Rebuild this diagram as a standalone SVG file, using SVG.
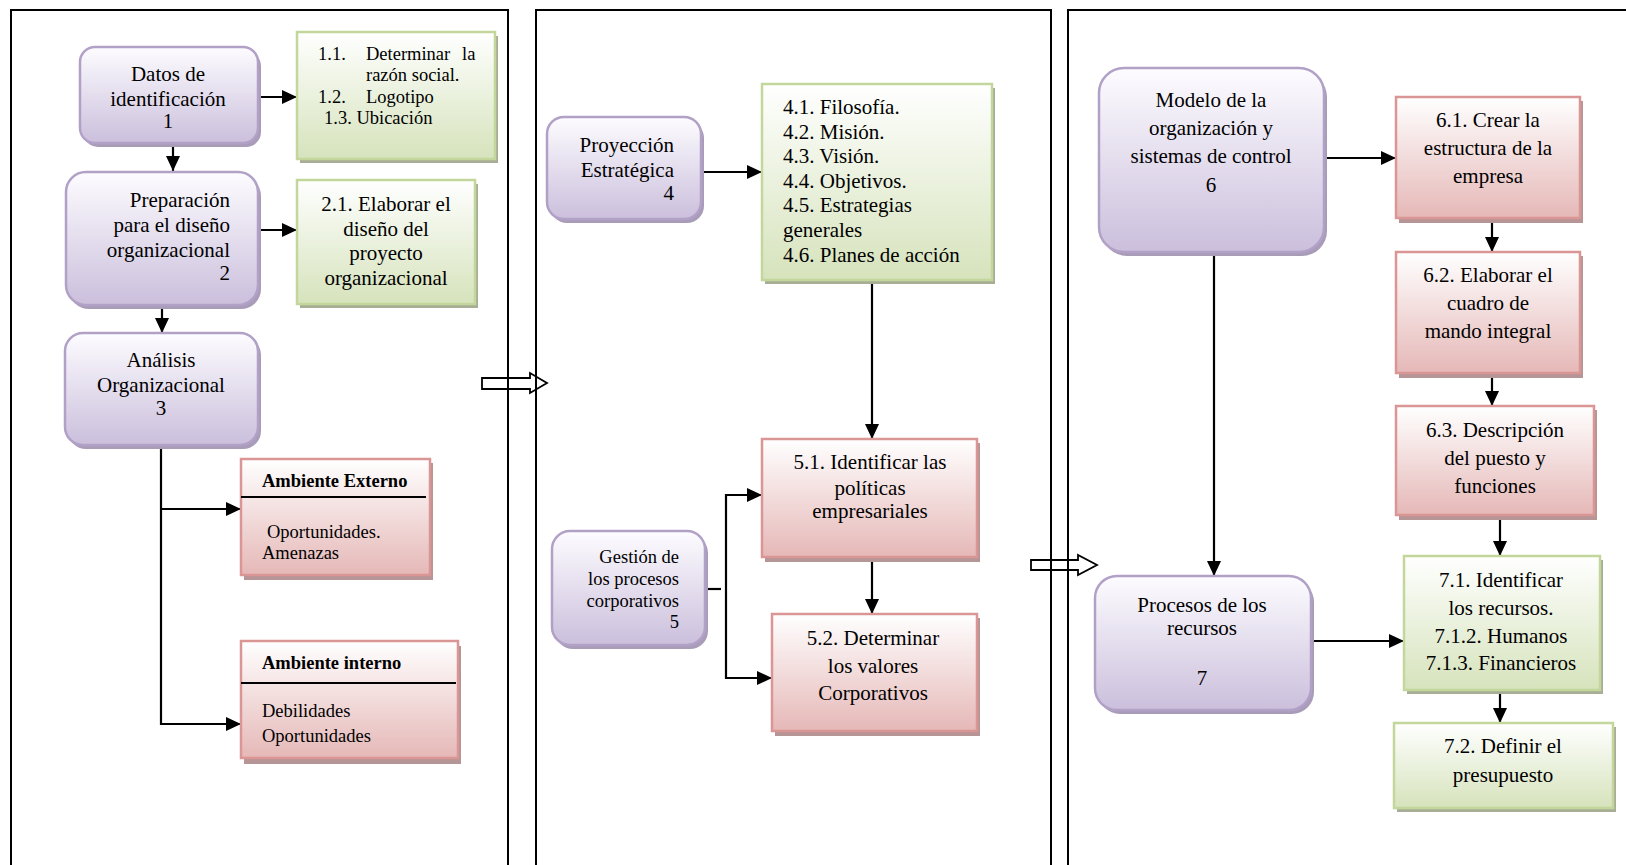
<svg xmlns="http://www.w3.org/2000/svg" width="1626" height="865" viewBox="0 0 1626 865">
<defs>
<linearGradient id="gP" x1="0" y1="0" x2="0" y2="1"><stop offset="0" stop-color="#fdfcff"/><stop offset="1" stop-color="#cbbfdc"/></linearGradient>
<linearGradient id="gG" x1="0" y1="0" x2="0" y2="1"><stop offset="0" stop-color="#ffffff"/><stop offset="1" stop-color="#d6e3bc"/></linearGradient>
<linearGradient id="gR" x1="0" y1="0" x2="0" y2="1"><stop offset="0" stop-color="#ffffff"/><stop offset="1" stop-color="#e5b8b7"/></linearGradient>
<marker id="ah" markerUnits="userSpaceOnUse" markerWidth="15" markerHeight="14" refX="15" refY="7" orient="auto"><path d="M0,0 L15,7 L0,14 z" fill="#000"/></marker>
<style>
text{font-family:"Liberation Serif","Times New Roman",serif;fill:#000;font-size:21px}
.s{font-size:18.5px}
.b{font-weight:bold}
.c{text-anchor:middle}
.r{text-anchor:end}
.pn{fill:url(#gP);stroke:#b2a1c7;stroke-width:2.5}
.ps{fill:#a99cb9}
.gn{fill:url(#gG);stroke:#c3d69b;stroke-width:2.5}
.gs{fill:#a7ae95}
.rn{fill:url(#gR);stroke:#d99694;stroke-width:2.5}
.rs{fill:#b59595}
.ln{fill:none;stroke:#000;stroke-width:2.2}
.ar{marker-end:url(#ah)}
.pan{fill:none;stroke:#000;stroke-width:2}
.ho{fill:#fff;stroke:#000;stroke-width:1.8}
</style>
</defs>
<rect width="1626" height="865" fill="#fff"/>

<g id="transfer-arrows">
<path class="ho" d="M482,378 H530 V373 L547,383 L530,393 V389 H482 Z"/>
<path class="ho" d="M1031,560 H1078 V555 L1097,565 L1078,575 V570 H1031 Z"/>
</g>

<g id="panels">
<path class="pan" d="M11,870 V10 H508 V870"/>
<path class="pan" d="M536,870 V10 H1051 V870"/>
<path class="pan" d="M1068,870 V10 H1630"/>
</g>

<g id="connectors">
<path class="ln ar" d="M258,97 H297"/>
<path class="ln ar" d="M173,146 V171"/>
<path class="ln ar" d="M258,230 H297"/>
<path class="ln ar" d="M162,308 V333"/>
<path class="ln ar" d="M161,448 V724 H241"/>
<path class="ln ar" d="M161,509 H241"/>
<path class="ln ar" d="M701,172 H762"/>
<path class="ln ar" d="M872,284 V439"/>
<path class="ln ar" d="M872,561 V614"/>
<path class="ln" d="M705,589 H721"/>
<path class="ln ar" d="M762,495 H726 V678 H772" style="marker-end:none"/>
<path class="ln ar" d="M726,495 H762"/>
<path class="ln ar" d="M726,678 H772"/>
<path class="ln ar" d="M1327,158 H1396"/>
<path class="ln ar" d="M1492,222 V252"/>
<path class="ln ar" d="M1492,377 V406"/>
<path class="ln ar" d="M1500,519 V556"/>
<path class="ln ar" d="M1214,256 V576"/>
<path class="ln ar" d="M1311,641 H1404"/>
<path class="ln ar" d="M1500,694 V723"/>
</g>

<g id="n1">
<rect class="ps" x="83" y="51" width="178" height="96" rx="15"/>
<rect class="pn" x="80" y="47" width="178" height="96" rx="15"/>
<text class="c" x="168" y="81">Datos de</text>
<text class="c" x="168" y="106">identificación</text>
<text class="c" x="168" y="128">1</text>
</g>

<g id="n1-1">
<rect class="gs" x="300" y="36" width="198" height="127"/>
<rect class="gn" x="297" y="32" width="198" height="127"/>
<text class="s" x="318" y="60">1.1.</text>
<text class="s" x="366" y="60">Determinar</text>
<text class="s" x="462" y="60">la</text>
<text class="s" x="366" y="81">razón social.</text>
<text class="s" x="318" y="103">1.2.</text>
<text class="s" x="366" y="103">Logotipo</text>
<text class="s" x="324" y="124">1.3. Ubicación</text>
</g>

<g id="n2">
<rect class="ps" x="69" y="176" width="192" height="133" rx="20"/>
<rect class="pn" x="66" y="172" width="192" height="133" rx="20"/>
<text class="r" x="230" y="207">Preparación</text>
<text class="r" x="230" y="232">para el diseño</text>
<text class="r" x="230" y="257">organizacional</text>
<text class="r" x="230" y="280">2</text>
</g>

<g id="n2-1">
<rect class="gs" x="300" y="184" width="178" height="124"/>
<rect class="gn" x="297" y="180" width="178" height="124"/>
<text class="c" x="386" y="211">2.1. Elaborar el</text>
<text class="c" x="386" y="236">diseño del</text>
<text class="c" x="386" y="260">proyecto</text>
<text class="c" x="386" y="285">organizacional</text>
</g>

<g id="n3">
<rect class="ps" x="68" y="337" width="193" height="112" rx="18"/>
<rect class="pn" x="65" y="333" width="193" height="112" rx="18"/>
<text class="c" x="161" y="367">Análisis</text>
<text class="c" x="161" y="392">Organizacional</text>
<text class="c" x="161" y="415">3</text>
</g>

<g id="n3-ext">
<rect class="rs" x="244" y="463" width="189" height="117"/>
<rect class="rn" x="241" y="459" width="189" height="116"/>
<line x1="241" y1="497" x2="426" y2="497" stroke="#000" stroke-width="2"/>
<text class="s b" x="262" y="487">Ambiente Externo</text>
<text class="s" x="267" y="538">Oportunidades.</text>
<text class="s" x="262" y="559">Amenazas</text>
</g>

<g id="n3-int">
<rect class="rs" x="244" y="646" width="217" height="118"/>
<rect class="rn" x="241" y="641" width="217" height="117"/>
<line x1="241" y1="683" x2="456" y2="683" stroke="#000" stroke-width="2"/>
<text class="s b" x="262" y="669">Ambiente interno</text>
<text class="s" x="262" y="717">Debilidades</text>
<text class="s" x="262" y="742">Oportunidades</text>
</g>

<g id="n4">
<rect class="ps" x="550" y="121" width="154" height="102" rx="17"/>
<rect class="pn" x="547" y="117" width="154" height="102" rx="17"/>
<text class="r" x="674" y="152">Proyección</text>
<text class="r" x="674" y="177">Estratégica</text>
<text class="r" x="674" y="200">4</text>
</g>

<g id="n4-x">
<rect class="gs" x="765" y="88" width="230" height="196"/>
<rect class="gn" x="762" y="84" width="230" height="196"/>
<text x="783" y="114">4.1. Filosofía.</text>
<text x="783" y="139">4.2. Misión.</text>
<text x="783" y="163">4.3. Visión.</text>
<text x="783" y="188">4.4. Objetivos.</text>
<text x="783" y="212">4.5. Estrategias</text>
<text x="783" y="237">generales</text>
<text x="783" y="262">4.6. Planes de acción</text>
</g>

<g id="n5">
<rect class="ps" x="555" y="535" width="153" height="114" rx="18"/>
<rect class="pn" x="552" y="531" width="153" height="114" rx="18"/>
<text class="s r" x="679" y="563">Gestión de</text>
<text class="s r" x="679" y="585">los procesos</text>
<text class="s r" x="679" y="607">corporativos</text>
<text class="s r" x="679" y="628">5</text>
</g>

<g id="n5-1">
<rect class="rs" x="765" y="443" width="215" height="119"/>
<rect class="rn" x="762" y="439" width="215" height="118"/>
<text class="c" x="870" y="469">5.1. Identificar las</text>
<text class="c" x="870" y="495">políticas</text>
<text class="c" x="870" y="518">empresariales</text>
</g>

<g id="n5-2">
<rect class="rs" x="775" y="618" width="205" height="118"/>
<rect class="rn" x="772" y="614" width="205" height="117"/>
<text class="c" x="873" y="645">5.2. Determinar</text>
<text class="c" x="873" y="673">los valores</text>
<text class="c" x="873" y="700">Corporativos</text>
</g>

<g id="n6">
<rect class="ps" x="1102" y="72" width="225" height="184" rx="25"/>
<rect class="pn" x="1099" y="68" width="225" height="184" rx="25"/>
<text class="c" x="1211" y="107">Modelo de la</text>
<text class="c" x="1211" y="135">organización y</text>
<text class="c" x="1211" y="163">sistemas de control</text>
<text class="c" x="1211" y="192">6</text>
</g>

<g id="n6-1">
<rect class="rs" x="1399" y="101" width="184" height="122"/>
<rect class="rn" x="1396" y="97" width="184" height="121"/>
<text class="c" x="1488" y="127">6.1. Crear la</text>
<text class="c" x="1488" y="155">estructura de la</text>
<text class="c" x="1488" y="183">empresa</text>
</g>

<g id="n6-2">
<rect class="rs" x="1399" y="256" width="184" height="122"/>
<rect class="rn" x="1396" y="252" width="184" height="121"/>
<text class="c" x="1488" y="282">6.2. Elaborar el</text>
<text class="c" x="1488" y="310">cuadro de</text>
<text class="c" x="1488" y="338">mando integral</text>
</g>

<g id="n6-3">
<rect class="rs" x="1399" y="410" width="198" height="110"/>
<rect class="rn" x="1396" y="406" width="198" height="109"/>
<text class="c" x="1495" y="437">6.3. Descripción</text>
<text class="c" x="1495" y="465">del puesto y</text>
<text class="c" x="1495" y="493">funciones</text>
</g>

<g id="n7">
<rect class="ps" x="1098" y="580" width="216" height="134" rx="22"/>
<rect class="pn" x="1095" y="576" width="216" height="134" rx="22"/>
<text class="c" x="1202" y="612">Procesos de los</text>
<text class="c" x="1202" y="635">recursos</text>
<text class="c" x="1202" y="685">7</text>
</g>

<g id="n7-1">
<rect class="gs" x="1407" y="560" width="196" height="134"/>
<rect class="gn" x="1404" y="556" width="196" height="134"/>
<text class="c" x="1501" y="587">7.1. Identificar</text>
<text class="c" x="1501" y="615">los recursos.</text>
<text class="c" x="1501" y="643">7.1.2. Humanos</text>
<text class="c" x="1501" y="670">7.1.3. Financieros</text>
</g>

<g id="n7-2">
<rect class="gs" x="1397" y="727" width="219" height="85"/>
<rect class="gn" x="1394" y="723" width="219" height="85"/>
<text class="c" x="1503" y="753">7.2. Definir el</text>
<text class="c" x="1503" y="782">presupuesto</text>
</g>
</svg>
